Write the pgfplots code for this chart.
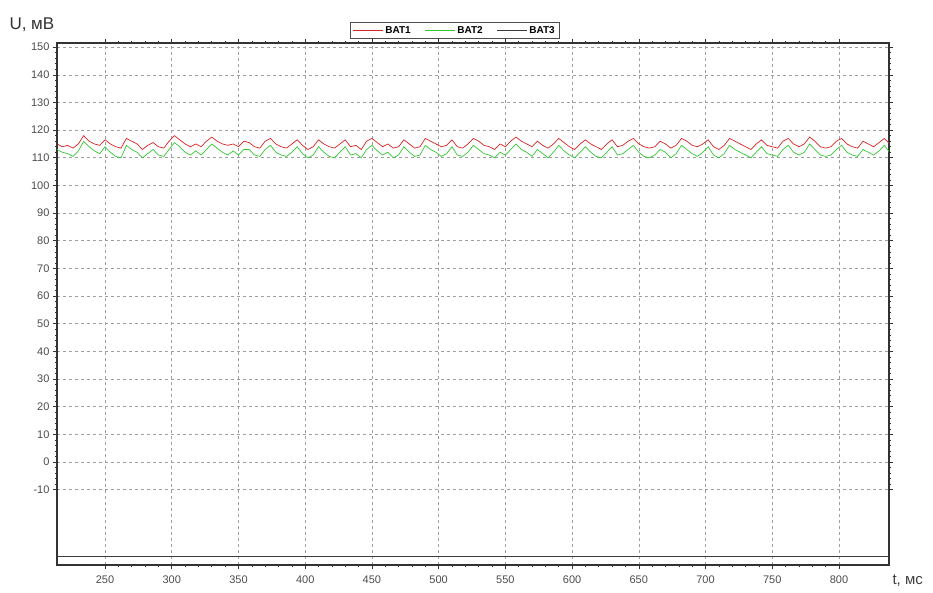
\documentclass[border=0pt]{standalone}
\usepackage{fontspec}
\setmainfont{Liberation Sans}
\usepackage{pgfplots}
\pgfplotsset{compat=1.18}
\definecolor{batone}{RGB}{215,35,35}
\definecolor{battwo}{RGB}{50,200,50}
\definecolor{batthree}{RGB}{60,60,60}
\begin{document}
\begin{tikzpicture}
\useasboundingbox (-57pt,-27pt) rectangle (876pt,565pt);
\begin{axis}[
  at={(0,0)}, anchor=south west,
  scale only axis, width=832pt, height=522pt,
  xmin=214, xmax=837.5, ymin=-37.2, ymax=151.5,
  xtick={250,300,...,800},
  ytick={-10,0,...,150},
  minor x tick num=4, minor y tick num=4,
  tick align=outside,
  major tick length=4pt, minor tick length=2pt,
  every tick/.style={black!80, line width=0.6pt},
  axis line style={black!80, line width=1.2pt},
  grid=major,
  major grid style={dashed, gray!75, line width=0.6pt},
  ticklabel style={font=\fontsize{11}{12}\selectfont, text=black!70},
  xticklabel style={yshift=-3pt},
  /pgf/number format/assume math mode=true,
  legend style={at={(0.478,1.008)}, anchor=south, legend columns=-1,
    font=\fontsize{10}{12}\selectfont\bfseries, draw=black!70,
    inner sep=2pt, /tikz/every even column/.append style={column sep=12pt}},
  legend image code/.code={\draw[#1, line width=0.8pt] (0cm,0cm) -- (1.05cm,0cm);},
  clip=true,
]
\addplot[color=batone, line width=0.7pt] coordinates {
(214,115) (218,114) (222,114.5) (226,113.5) (230,115) (234,118) (238,116) (242,115)
(246,114.5) (250,116.5) (254,115) (258,114) (262,113.5) (266,117) (270,116) (274,115)
(278,113) (282,114.5) (286,115.5) (290,114) (294,113.5) (298,116) (302,118) (306,116.5)
(310,115) (314,114) (318,115) (322,114) (326,116) (330,117.5) (334,116) (338,115)
(342,114.5) (346,115) (350,114) (354,116) (358,115.5) (362,114) (366,113.5) (370,116)
(374,117) (378,115) (382,114) (386,113.5) (390,115) (394,116.5) (398,114.5) (402,113)
(406,114) (410,116.5) (414,115) (418,114) (422,113.5) (426,115) (430,116.5) (434,114)
(438,114.5) (442,113) (446,116) (450,117) (454,115.5) (458,114) (462,115) (466,113.5)
(470,114) (474,116.5) (478,115) (482,113.5) (486,114) (490,117) (494,116) (498,115)
(502,114) (506,114.5) (510,116.5) (514,114) (518,113.5) (522,115) (526,117) (530,116)
(534,114.5) (538,114) (542,113) (546,115) (550,114) (554,116) (558,117.5) (562,116)
(566,115) (570,114) (574,116) (578,114.5) (582,113.5) (586,115) (590,117) (594,115.5)
(598,114) (602,113) (606,115) (610,116.5) (614,115) (618,114) (622,113) (626,115)
(630,116.5) (634,114) (638,114.5) (642,116) (646,117) (650,115) (654,114) (658,113.5)
(662,114) (666,116) (670,115) (674,113.5) (678,114.5) (682,117) (686,116) (690,114.5)
(694,114) (698,115) (702,116.5) (706,114) (710,113) (714,114.5) (718,117) (722,116)
(726,115) (730,114) (734,113) (738,115) (742,116.5) (746,114.5) (750,114) (754,113.5)
(758,116) (762,117) (766,115) (770,114) (774,115) (778,117.5) (782,116) (786,114)
(790,113.5) (794,114) (798,116) (802,117) (806,115) (810,114) (814,113.5) (818,116)
(822,115) (826,114) (830,115.5) (834,117) (838,115)
};
\addlegendentry{BAT1}
\addplot[color=battwo, line width=0.7pt] coordinates {
(214,113) (218,112) (222,111.5) (226,110.5) (230,112.5) (234,116) (238,114) (242,112.5)
(246,111.5) (250,114) (254,112) (258,110.5) (262,110) (266,114.5) (270,113) (274,112)
(278,110) (282,111.5) (286,113) (290,111) (294,110.5) (298,113) (302,115.5) (306,114)
(310,112) (314,111) (318,112.5) (322,111) (326,113) (330,115) (334,113.5) (338,112)
(342,111) (346,112.5) (350,111) (354,113) (358,113) (362,111) (366,110.5) (370,113)
(374,114.5) (378,112) (382,111) (386,110.5) (390,112) (394,114) (398,111.5) (402,110)
(406,111) (410,114) (414,112) (418,110.5) (422,110) (426,112) (430,114) (434,111)
(438,111.5) (442,110) (446,113) (450,114.5) (454,112.5) (458,111) (462,112) (466,110)
(470,111) (474,114) (478,112) (482,110.5) (486,111) (490,114.5) (494,113) (498,112)
(502,110.5) (506,111.5) (510,114) (514,111) (518,110.5) (522,112) (526,114.5) (530,113)
(534,111.5) (538,111) (542,110) (546,112) (550,111) (554,113) (558,115) (562,113)
(566,112) (570,110.5) (574,113) (578,111.5) (582,110) (586,112) (590,114.5) (594,112.5)
(598,111) (602,110) (606,112) (610,114) (614,112) (618,110.5) (622,110) (626,112)
(630,114) (634,111) (638,111.5) (642,113) (646,114.5) (650,112) (654,110.5) (658,110)
(662,111) (666,113) (670,112) (674,110) (678,111.5) (682,114.5) (686,113) (690,111.5)
(694,110.5) (698,112) (702,114) (706,111) (710,110) (714,111.5) (718,114.5) (722,113)
(726,112) (730,111) (734,110) (738,112) (742,114) (746,111.5) (750,111) (754,110.5)
(758,113) (762,114.5) (766,112) (770,111) (774,112) (778,115) (782,113) (786,111)
(790,110.5) (794,111) (798,113) (802,114.5) (806,112) (810,111) (814,110.5) (818,113)
(822,112) (826,111) (830,112.5) (834,114.5) (838,112)
};
\addlegendentry{BAT2}
\addplot[color=batthree, line width=0.9pt] coordinates {(214,-34) (838,-34)};
\addlegendentry{BAT3}
\end{axis}
\node[anchor=south west, font=\fontsize{17}{19}\selectfont, text=black!80] at (-51pt,530pt) {U, мВ};
\node[anchor=north west, font=\fontsize{15}{17}\selectfont, text=black!75] at (832pt,-6pt) {t, мс};
\end{tikzpicture}
\end{document}
